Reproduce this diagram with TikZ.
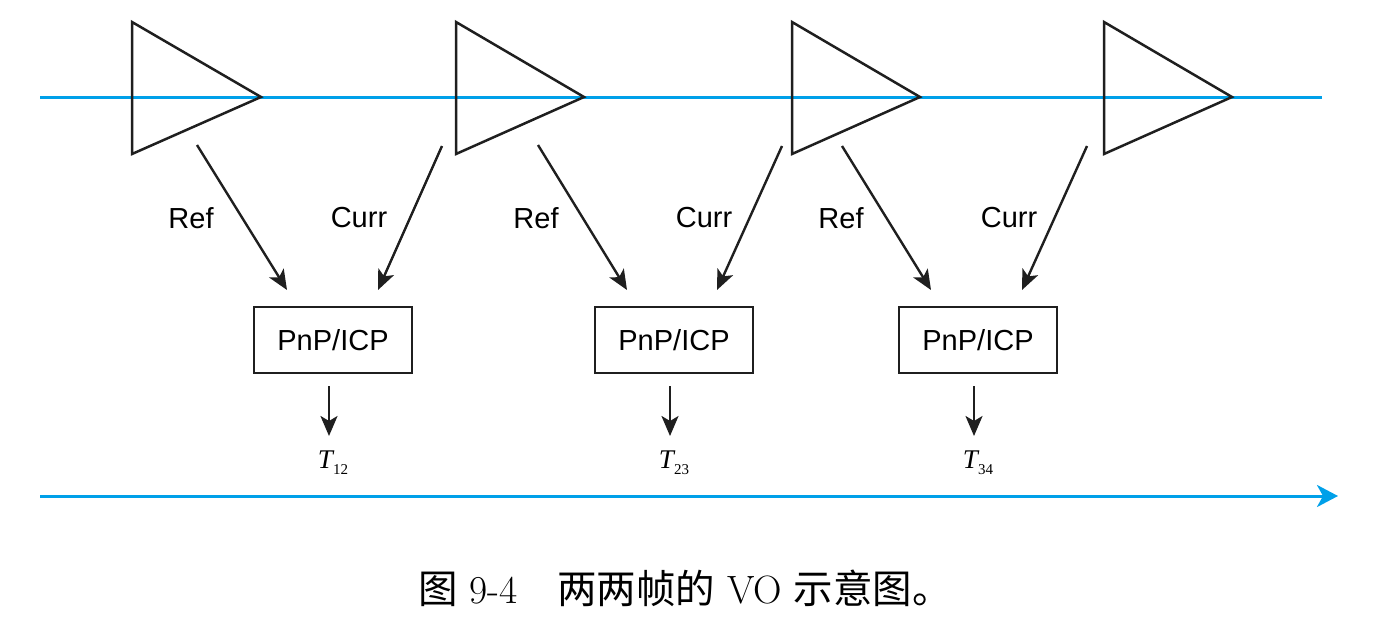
\documentclass[tikz,border=0pt]{standalone}
\usepackage{fontspec}
\newfontfamily\labelfont{Liberation Sans}
\newfontfamily\posefont{Liberation Serif}
\newfontfamily\cjk{Noto Sans CJK SC}
\usepackage{xcolor}
\usetikzlibrary{arrows.meta}
\definecolor{lineblue}{RGB}{0,160,233}
\newcommand{\posesub}[1]{\textit{T}\kern-1.5pt\raisebox{-6pt}{\fontsize{15}{16}\selectfont #1}}

\begin{document}
\begin{tikzpicture}[x=1pt,y=-1pt]
		\tikzstyle{frame}=[line width=2.5pt,draw=black!88,line join=miter]
		\tikzstyle{track}=[line width=3pt,draw=lineblue]
		\tikzstyle{feed}=[line width=2.4pt,draw=black!88,-{Stealth[length=20pt,width=17pt,inset=5pt]}]
		\tikzstyle{solver}=[rectangle,draw=black!88,line width=2.4pt,minimum width=158pt,minimum height=66pt,font=\labelfont\fontsize{29}{34}\selectfont]
		\tikzstyle{tag}=[font=\labelfont\fontsize{29}{34}\selectfont]
		\tikzstyle{pose}=[font=\posefont\fontsize{27}{30}\selectfont]
		
		\useasboundingbox (0,0) rectangle (1376,624);
		
		% frames along the track
		\coordinate (track start) at (40,97);
		\coordinate (track end) at (1322,97);
		\draw [track] (track start) -- (track end);
		\draw [frame] (132,22) -- (261,97) -- (132,154) -- cycle;
		\draw [frame] (456,22) -- (584,97) -- (456,154) -- cycle;
		\draw [frame] (792,22) -- (920,97) -- (792,154) -- cycle;
		\draw [frame] (1104,22) -- (1232,97) -- (1104,154) -- cycle;
		
		% solvers
		\node [solver] (solver12) at (333,340) {PnP/ICP};
		\node [solver] (solver23) at (674,340) {PnP/ICP};
		\node [solver] (solver34) at (978,340) {PnP/ICP};
		
		\coordinate (ref12) at (197,145);
		\coordinate (ref12 tip) at (287,290);
		\coordinate (curr12) at (442,146);
		\coordinate (curr12 tip) at (378,290);
		\coordinate (ref23) at (538,145);
		\coordinate (ref23 tip) at (627,290);
		\coordinate (curr23) at (782,146);
		\coordinate (curr23 tip) at (717,290);
		\coordinate (ref34) at (842,146);
		\coordinate (ref34 tip) at (931,290);
		\coordinate (curr34) at (1087,146);
		\coordinate (curr34 tip) at (1022,290);
		\draw [feed] (ref12) -- (ref12 tip);
		\draw [feed] (curr12) -- (curr12 tip);
		\draw [feed] (ref23) -- (ref23 tip);
		\draw [feed] (curr23) -- (curr23 tip);
		\draw [feed] (ref34) -- (ref34 tip);
		\draw [feed] (curr34) -- (curr34 tip);
		
		\node [tag] (reflabel12) at (191,218) {Ref};
		\node [tag] (currlabel12) at (359,218) {Curr};
		\node [tag] (reflabel23) at (536,218) {Ref};
		\node [tag] (currlabel23) at (704,218) {Curr};
		\node [tag] (reflabel34) at (841,218) {Ref};
		\node [tag] (currlabel34) at (1009,218) {Curr};
		
		% relative poses
		\node [pose] (pose12) at (333,463) {\posesub{12}};
		\node [pose] (pose23) at (674,463) {\posesub{23}};
		\node [pose] (pose34) at (978,463) {\posesub{34}};
		\coordinate (out12) at (329,386);
		\coordinate (out12 tip) at (329,436);
		\coordinate (out23) at (670,386);
		\coordinate (out23 tip) at (670,436);
		\coordinate (out34) at (974,386);
		\coordinate (out34 tip) at (974,436);
		\draw [feed] (out12) -- (out12 tip);
		\draw [feed] (out23) -- (out23 tip);
		\draw [feed] (out34) -- (out34 tip);
		
		% time axis
		\coordinate (time start) at (40,496);
		\coordinate (time end) at (1338,496);
		\draw [track,-{Stealth[length=21pt,width=22pt,inset=6pt]},color=lineblue] (time start) -- (time end);
		
		\node [font=\fontsize{39.5}{44}\selectfont] (caption) at (685,588) {{\cjk 图} 9-4\quad {\cjk 两两帧的} VO {\cjk 示意图。}};
\end{tikzpicture}
\end{document}
